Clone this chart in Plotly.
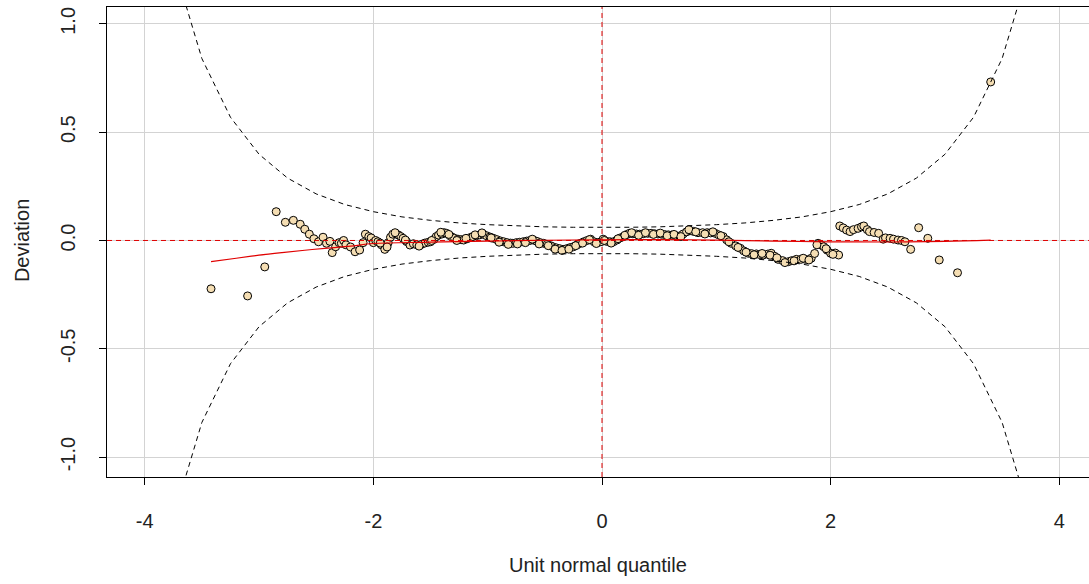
import plotly.graph_objects as go

# worm points (unit normal quantile, deviation)
worm_x = [-3.42, -3.10, -2.95, -2.85, -2.77, -2.70, -2.64, -2.60, -2.56, -2.52, -2.48, -2.44, -2.41, -2.38,
          -2.36, -2.33, -2.30, -2.28, -2.26, -2.24, -2.20, -2.16, -2.12, -2.09, -2.07, -2.04, -2.02, -2.00,
          -1.98, -1.96, -1.93, -1.90, -1.87, -1.85, -1.83, -1.80, -1.78, -1.76, -1.74, -1.71, -1.68, -1.65,
          -1.62, -1.58, -1.55, -1.52, -1.50, -1.47, -1.45, -1.43, -1.40, -1.38, -1.36, -1.33, -1.31, -1.29,
          -1.26, -1.23, -1.21, -1.18, -1.15, -1.13, -1.10, -1.07, -1.04, -1.01, -0.98, -0.95, -0.92, -0.89,
          -0.86, -0.83, -0.80, -0.78, -0.75, -0.72, -0.69, -0.66, -0.63, -0.60, -0.57, -0.54, -0.51, -0.48,
          -0.45, -0.43, -0.40, -0.37, -0.34, -0.31, -0.28, -0.25, -0.22, -0.19, -0.16, -0.13, -0.10, -0.07,
          -0.04, -0.01, 0.01, 0.04, 0.07, 0.10, 0.13, 0.16, 0.19, 0.22, 0.24, 0.27, 0.30, 0.33, 0.36, 0.40,
          0.43, 0.46, 0.49, 0.52, 0.55, 0.58, 0.61, 0.64, 0.68, 0.71, 0.74, 0.77, 0.80, 0.84, 0.88, 0.92,
          0.95, 0.99, 1.02, 1.06, 1.09, 1.13, 1.17, 1.21, 1.24, 1.28, 1.31, 1.35, 1.38, 1.41, 1.45, 1.48,
          1.51, 1.54, 1.58, 1.63, 1.66, 1.70, 1.74, 1.78, 1.83, 1.86, 1.89, 1.92, 1.94, 1.97, 2.00, 2.04,
          2.07, 2.08, 2.11, 2.14, 2.17, 2.20, 2.24, 2.27, 2.29, 2.32, 2.34, 2.38, 2.42, 2.46, 2.48, 2.52,
          2.55, 2.59, 2.62, 2.65, 2.70, 2.77, 2.85, 2.95, 3.11, 3.40]
worm_y = [-0.223, -0.256, -0.122, 0.133, 0.084, 0.093, 0.075, 0.052, 0.029, 0.008, -0.006, 0.015, -0.013, -0.004,
          -0.056, -0.029, -0.010, -0.013, 0.000, -0.020, -0.030, -0.052, -0.044, -0.010, 0.029, 0.018, 0.012, -0.010,
          0.000, -0.006, -0.020, -0.041, -0.010, 0.015, 0.029, 0.030, 0.025, 0.018, 0.010, -0.005, -0.021, -0.015,
          -0.020, -0.018, -0.012, -0.008, -0.006, 0.005, 0.018, 0.025, 0.030, 0.036, 0.033, 0.022, 0.015, 0.010,
          0.006, 0.004, 0.002, 0.008, 0.014, 0.018, 0.022, 0.026, 0.029, 0.022, 0.016, 0.010, 0.004, -0.002,
          -0.006, -0.010, -0.012, -0.013, -0.010, -0.008, -0.006, -0.003, 0.000, 0.002, -0.004, -0.010, -0.013, -0.018,
          -0.024, -0.029, -0.034, -0.038, -0.041, -0.038, -0.033, -0.029, -0.021, -0.013, -0.006, 0.000, 0.006, -0.006,
          -0.010, -0.006, 0.006, -0.004, -0.006, -0.006, 0.002, 0.012, 0.018, 0.028, 0.033, 0.031, 0.030, 0.029, 0.031, 0.033,
          0.033, 0.031, 0.030, 0.029, 0.027, 0.026, 0.025, 0.023, 0.021, 0.030, 0.040, 0.045, 0.042, 0.036, 0.036, 0.036,
          0.035, 0.033, 0.026, 0.018, 0.003, -0.013, -0.025, -0.036, -0.048, -0.059, -0.061, -0.062, -0.065, -0.067, -0.063, -0.059,
          -0.073, -0.087, -0.093, -0.098, -0.093, -0.087, -0.087, -0.087, -0.082, -0.060, -0.013, -0.022, -0.029, -0.045, -0.059, -0.058,
          -0.067, 0.067, 0.058, 0.048, 0.041, 0.050, 0.056, 0.063, 0.067, 0.050, 0.041, 0.037, 0.033, 0.006, 0.012, 0.010,
          0.006, 0.002, 0.000, -0.006, -0.041, 0.059, 0.010, -0.090, -0.149, 0.732]

# additional overlapping points that give the worm its thickness
worm2_x = [-1.94, -1.88, -1.81, -1.72, -1.60, -1.49, -1.41, -1.34, -1.27, -1.19, -1.11, -1.05, -0.97, -0.90,
           -0.82, -0.74, -0.67, -0.61, -0.55, -0.47, -0.41, -0.35, -0.29, -0.23, -0.17, -0.11, -0.05, 0.02,
           0.08, 0.14, 0.20, 0.26, 0.32, 0.38, 0.45, 0.51, 0.57, 0.63, 0.69, 0.76, 0.82, 0.90, 0.97, 1.04,
           1.11, 1.19, 1.26, 1.33, 1.40, 1.47, 1.53, 1.60, 1.68, 1.76, 1.81, 1.88, 1.96, 2.02]
worm2_y = [-0.012, -0.030, 0.036, 0.002, -0.026, 0.000, 0.038, 0.028, 0.000, 0.010, 0.026, 0.035, 0.012, -0.008,
           -0.018, -0.016, -0.010, 0.006, -0.016, -0.024, -0.040, -0.046, -0.040, -0.024, -0.012, 0.004, -0.014, 0.000,
           -0.012, 0.008, 0.024, 0.036, 0.024, 0.036, 0.028, 0.034, 0.022, 0.028, 0.018, 0.050, 0.040, 0.030, 0.040, 0.022,
           -0.006, -0.032, -0.054, -0.066, -0.060, -0.068, -0.080, -0.102, -0.094, -0.082, -0.090, -0.020, -0.038, -0.064]

# 95% band
band_z = [-4.0, -3.75, -3.5, -3.25, -3.0, -2.75, -2.5, -2.25, -2.0, -1.75, -1.5, -1.25, -1.0, -0.75, -0.5, -0.25,
          0.0, 0.25, 0.5, 0.75, 1.0, 1.25, 1.5, 1.75, 2.0, 2.25, 2.5, 2.75, 3.0, 3.25, 3.5, 3.75, 4.0]
band_upper = [2.020, 1.281, 0.840, 0.569, 0.398, 0.288, 0.215, 0.166, 0.133, 0.109, 0.093, 0.081, 0.073, 0.067, 0.063, 0.061,
              0.060, 0.061, 0.063, 0.067, 0.073, 0.081, 0.093, 0.109, 0.133, 0.166, 0.215, 0.288, 0.398, 0.569, 0.840, 1.281, 2.020]
band_lower = [-2.020, -1.281, -0.840, -0.569, -0.398, -0.288, -0.215, -0.166, -0.133, -0.109, -0.093, -0.081, -0.073, -0.067, -0.063, -0.061,
              -0.060, -0.061, -0.063, -0.067, -0.073, -0.081, -0.093, -0.109, -0.133, -0.166, -0.215, -0.288, -0.398, -0.569, -0.840, -1.281, -2.020]

# fitted cubic (red line)
fit_x = [-3.42, -3.2, -3.0, -2.8, -2.6, -2.4, -2.2, -2.0, -1.5, -1.0, -0.5, 0.0, 0.5, 1.0, 1.5, 2.0, 2.5, 3.0, 3.4]
fit_y = [-0.098, -0.082, -0.068, -0.056, -0.045, -0.035, -0.026, -0.014, -0.008, -0.003, 0.001, 0.003, 0.004, 0.002,
         -0.003, -0.006, -0.007, -0.004, 0.002]

x_ticks = [-4, -2, 0, 2, 4]
y_ticks = [-1.0, -0.5, 0.0, 0.5, 1.0]
y_tick_text = ["-1.0", "-0.5", "0.0", "0.5", "1.0"]

X_RANGE = [-4.33, 4.26]
Y_RANGE = [-1.092, 1.078]

fig = go.Figure()
fig.add_trace(go.Scatter(x=worm_x + worm2_x, y=worm_y + worm2_y, mode="markers",
                         marker=dict(size=8, color="#F5DEB3", line=dict(color="black", width=1)),
                         showlegend=False, hoverinfo="skip"))
fig.add_trace(go.Scatter(x=X_RANGE, y=[0, 0], mode="lines",
                         line=dict(color="#E00000", width=1, dash="5px,4px"), showlegend=False))
fig.add_trace(go.Scatter(x=[0, 0], y=Y_RANGE, mode="lines",
                         line=dict(color="#E00000", width=1, dash="5px,4px"), showlegend=False))
fig.add_trace(go.Scatter(x=band_z, y=band_upper, mode="lines",
                         line=dict(color="black", width=1, dash="5px,4px"), showlegend=False))
fig.add_trace(go.Scatter(x=band_z, y=band_lower, mode="lines",
                         line=dict(color="black", width=1, dash="5px,4px"), showlegend=False))
fig.add_trace(go.Scatter(x=fit_x, y=fit_y, mode="lines", line=dict(color="#E00000", width=1.2),
                         line_shape="spline", showlegend=False))

font = dict(family="Liberation Sans, Arial, sans-serif", size=20, color="#222222")
fig.update_layout(
    width=1089, height=584,
    margin=dict(l=107, r=0, t=7, b=107),
    paper_bgcolor="white", plot_bgcolor="white",
    font=font,
    xaxis=dict(range=X_RANGE, tickvals=x_ticks, ticktext=[str(v) for v in x_ticks],
               showgrid=True, gridcolor="#D3D3D3", gridwidth=1, zeroline=False,
               showline=True, linecolor="black", linewidth=1, mirror=True,
               ticks="outside", ticklen=7, tickcolor="black", ticklabelstandoff=19),
    yaxis=dict(range=Y_RANGE, tickvals=y_ticks, ticktext=y_tick_text, tickangle=-90,
               showgrid=True, gridcolor="#D3D3D3", gridwidth=1, zeroline=False,
               showline=True, linecolor="black", linewidth=1, mirror=False,
               ticks="outside", ticklen=7, tickcolor="black", ticklabelstandoff=16),
    annotations=[
        dict(text="Deviation", xref="paper", yref="paper", x=-0.0866, y=0.504, textangle=-90,
             showarrow=False, xanchor="center", yanchor="middle", font=font),
        dict(text="Unit normal quantile", xref="paper", yref="paper", x=0.5, y=-0.187,
             showarrow=False, xanchor="center", yanchor="middle", font=font),
    ],
)
fig.write_html("out.html", config={"displayModeBar": False},
               post_script="document.body.style.margin='0';document.body.style.overflow='hidden';")
